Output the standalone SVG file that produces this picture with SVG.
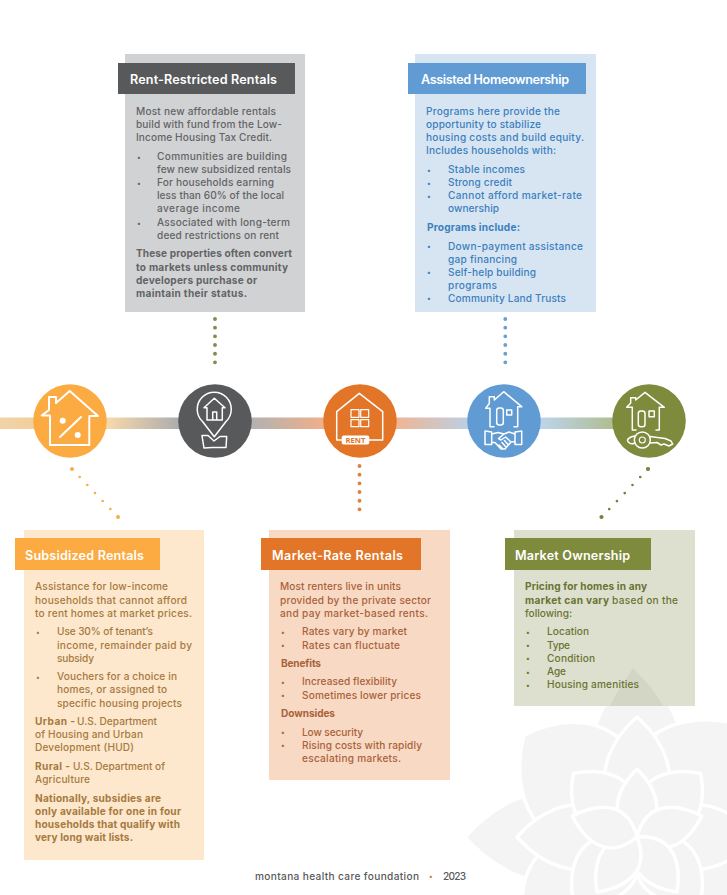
<svg xmlns="http://www.w3.org/2000/svg" xmlns:xlink="http://www.w3.org/1999/xlink" width="727" height="895" viewBox="0 0 727 895">
<style>
text{font-family:Inter,"Noto Sans","Liberation Sans",sans-serif;font-size:10.1px;font-weight:500;transform:translateY(-.4px)}
.t{font-size:12.6px;font-weight:600;fill:#fff}
.b{font-weight:700}
.k{font-size:7px}
.gy text{fill:#636466}.bl text{fill:#3b80bd}.su text{fill:#a67a3e}.mk text{fill:#a9623a}.gn text{fill:#6a7333}
text.t{fill:#fff}
.ic{fill:none;stroke:#fff;stroke-width:1.5;stroke-linecap:round;stroke-linejoin:round}
.dot{fill:none;stroke-width:3.9;stroke-linecap:round}
.dg{fill:none;stroke-width:2.7;stroke-linecap:round}
.p{fill:#f4f4f4;stroke:#fff;stroke-width:3.5;stroke-linejoin:round}
</style>
<defs>
<linearGradient id="g0"><stop offset="0" stop-color="#f0d3a8"/><stop offset="1" stop-color="#f2cf9c"/></linearGradient>
<linearGradient id="g1"><stop offset="0" stop-color="#f8d9ac"/><stop offset="1" stop-color="#adadad"/></linearGradient>
<linearGradient id="g2"><stop offset="0" stop-color="#b2b2b2"/><stop offset="1" stop-color="#efb08a"/></linearGradient>
<linearGradient id="g3"><stop offset="0" stop-color="#efb694"/><stop offset="1" stop-color="#bccfe4"/></linearGradient>
<linearGradient id="g4"><stop offset="0" stop-color="#bdd5ec"/><stop offset="1" stop-color="#b0bd92"/></linearGradient>
<path id="po" d="M0,0C-72,-60 -48,-130 0,-172C48,-130 72,-60 0,0Z"/>
<path id="pd" d="M0,0C-90,-40 -70,-115 -8,-152C75,-125 80,-40 0,0Z"/>
<path id="pm" d="M0,0C-52,-40 -34,-90 0,-120C34,-90 52,-40 0,0Z"/>
<path id="ps" d="M0,0C-48,-30 -32,-68 0,-90C32,-68 48,-30 0,0Z"/>
<path id="pi" d="M0,0C-32,-20 -20,-48 0,-68C20,-48 32,-20 0,0Z"/>
</defs>

<g id="watermark" transform="translate(637 837)">
<g class="p">
<use href="#po"/><use href="#po" transform="rotate(90)"/><use href="#po" transform="rotate(180)"/><use href="#po" transform="rotate(270)"/>
<use href="#pd" transform="rotate(45)"/><use href="#pd" transform="rotate(135)"/><use href="#pd" transform="rotate(225)"/><use href="#pd" transform="rotate(315)"/>
<use href="#pm"/><use href="#pm" transform="rotate(90)"/><use href="#pm" transform="rotate(180)"/><use href="#pm" transform="rotate(270)"/>
<use href="#ps" transform="rotate(45)"/><use href="#ps" transform="rotate(135)"/><use href="#ps" transform="rotate(225)"/><use href="#ps" transform="rotate(315)"/>
<use href="#pi"/><use href="#pi" transform="rotate(72)"/><use href="#pi" transform="rotate(144)"/><use href="#pi" transform="rotate(216)"/><use href="#pi" transform="rotate(288)"/>
</g>
</g>

<g id="connectors">
<rect x="0" y="417.5" width="34" height="11.5" fill="url(#g0)"/>
<rect x="106" y="417.5" width="73" height="11.5" fill="url(#g1)"/>
<rect x="251" y="417.5" width="73" height="11.5" fill="url(#g2)"/>
<rect x="396" y="417.5" width="73" height="11.5" fill="url(#g3)"/>
<rect x="540" y="417.5" width="73" height="11.5" fill="url(#g4)"/>
<line class="dot" x1="215" y1="319" x2="215" y2="371" stroke="#848d4e" stroke-dasharray="0 8.67"/>
<line class="dot" x1="359.5" y1="466" x2="359.5" y2="518" stroke="#df8140" stroke-dasharray="0 8.67"/>
<line class="dot" x1="505.3" y1="319" x2="505.3" y2="371" stroke="#6f9fd2" stroke-dasharray="0 8.67"/>
<line class="dg" x1="72" y1="469" x2="118" y2="517" stroke="#f5b04e" stroke-dasharray="0 11.08"/>
<line class="dg" x1="648" y1="469" x2="601.5" y2="517" stroke="#76823c" stroke-dasharray="0 11.15"/>
<circle cx="72" cy="469" r="2" fill="#f5b04e"/><circle cx="118" cy="517" r="2" fill="#f5b04e"/>
<circle cx="648" cy="469" r="2.1" fill="#76823c"/><circle cx="601.5" cy="517" r="2.1" fill="#76823c"/>
</g>

<g id="node-subsidized-icon">
<circle cx="70" cy="421" r="36.8" fill="#fbab41"/>
<path class="ic" style="stroke-width:2" d="M50,416V445H89.3V416H98L69.7,391L56,403V397H49V410L41.7,415.5H50"/>
<path class="ic" style="stroke-width:2" d="M60,437L81,417"/>
<circle cx="62.7" cy="420.7" r="3" fill="#fff"/><circle cx="77.7" cy="435" r="3" fill="#fff"/>
</g>

<g id="node-restricted-icon">
<circle cx="215" cy="421" r="36.8" fill="#58595b"/>
<path class="ic" d="M214.3,436.7L202.5,421.5A17,17,0,1,1,226,421.5Z"/>
<path class="ic" d="M207,407.7H204L214.3,398.3L225,407.7H222.3V420H207ZM212.7,420V412H216.7V420"/>
<path class="ic" d="M202,435.5H208L214,441L220,436.5H226.7L226,447.5H212L204,448L203,442Z"/>
</g>

<g id="node-market-rate-icon">
<circle cx="360" cy="421" r="36.8" fill="#e27527"/>
<path class="ic" d="M341.7,440H336.7V411.7L359.3,393.3L382.7,411.7V440H369.3"/>
<rect x="351" y="409.7" width="8" height="7.6" class="ic" style="stroke-width:1.2"/><rect x="360.7" y="409.7" width="8" height="7.6" class="ic" style="stroke-width:1.2"/>
<rect x="351" y="419.7" width="8" height="7" class="ic" style="stroke-width:1.2"/><rect x="360.7" y="419.7" width="8" height="7" class="ic" style="stroke-width:1.2"/>
<rect x="341.7" y="435.5" width="27.6" height="9" rx="2" fill="#fff"/>
<text x="355.5" y="443.4" text-anchor="middle" style="font-size:7.6px;font-weight:700;fill:#e27527;font-family:'Open Sans',sans-serif">RENT</text>
</g>

<g id="node-assisted-icon">
<circle cx="504" cy="421" r="36.8" fill="#619bd4"/>
<path class="ic" d="M490,408.3H485.7L489.3,403.5V396.7H494.3V400L503.7,391.7L521.7,406.7H517.7V426.7H514M490,408.3V426.7H494"/>
<rect x="496.7" y="408" width="6.6" height="17" rx="2.5" class="ic"/>
<rect x="506.7" y="410" width="5" height="5" class="ic"/>
<path class="ic" d="M485,431L491.7,432V444.5L485,444.5ZM515,432L521.7,431V444.5H515ZM491.7,434L498,432.5L504,434L509,432L515,434V441.5L511,442L505,449L501,449L495,442.5H491.7M504,434L498.5,438.5L501,440L505.5,437L511,442M503,449L499,445M506,447L502,442.5M508.5,445L504.5,440.5"/>
</g>

<g id="node-ownership-icon">
<circle cx="649" cy="421" r="36.8" fill="#7e8a3c"/>
<path class="ic" d="M632.3,407.3H626.7L630.7,403V397.7H635.7V400L645,392.3L664.3,407.3H659.3V430H656M632.3,407.3V430H636"/>
<rect x="638.3" y="411" width="6.7" height="15.7" rx="2.5" class="ic"/>
<rect x="649" y="411" width="5.3" height="5.7" class="ic"/>
<circle cx="642.3" cy="440" r="8" class="ic"/>
<circle cx="642.3" cy="440" r="3" class="ic" style="stroke-width:1.1"/>
<path class="ic" d="M634.5,436C629,437 626,440 628.3,442C630,444 633,444 635,443M650,436.5L665,438.5L671,441L672.7,444L669,446L664,444L661,445L657,442.5L650,443"/>
</g>

<g id="node-restricted" class="gy">
<rect x="125" y="54" width="180" height="258" fill="#d1d2d4"/>
<rect x="118" y="63" width="177" height="31" fill="#58595b"/>
<text class="t" x="130" y="84" textLength="147">Rent-Restricted Rentals</text>
<text x="136" y="115.5" textLength="140">Most new affordable rentals</text>
<text x="136" y="128.5" textLength="146">build with fund from the Low-</text>
<text x="136" y="141.5" textLength="136">Income Housing Tax Credit.</text>
<text class="k" x="137" y="160">•</text><text x="157" y="160.5" textLength="130">Communities are building</text>
<text x="157" y="173.5" textLength="134">few new subsidized rentals</text>
<text class="k" x="137" y="186">•</text><text x="157" y="186.5" textLength="117">For households earning</text>
<text x="157" y="199.5" textLength="127">less than 60% of the local</text>
<text x="157" y="212.5" textLength="83">average income</text>
<text class="k" x="137" y="226">•</text><text x="157" y="226.5" textLength="133">Associated with long-term</text>
<text x="157" y="239.5" textLength="122">deed restrictions on rent</text>
<text class="b" x="136" y="257.5" textLength="156">These properties often convert</text>
<text class="b" x="136" y="271" textLength="152">to markets unless community</text>
<text class="b" x="136" y="284" textLength="121">developers purchase or</text>
<text class="b" x="136" y="297" textLength="111">maintain their status.</text>
</g>

<g id="node-assisted" class="bl">
<rect x="415" y="54" width="181" height="258" fill="#d7e5f3"/>
<rect x="408" y="63" width="178" height="31" fill="#619bd4"/>
<text class="t" x="421" y="84" textLength="148">Assisted Homeownership</text>
<text x="426" y="115.5" textLength="134">Programs here provide the</text>
<text x="426" y="128.5" textLength="115">opportunity to stabilize</text>
<text x="426" y="141.5" textLength="158">housing costs and build equity.</text>
<text x="426" y="154.5" textLength="130">Includes households with:</text>
<text class="k" x="427" y="173">•</text><text x="448" y="173.5" textLength="77">Stable incomes</text>
<text class="k" x="427" y="186">•</text><text x="448" y="186.5" textLength="64">Strong credit</text>
<text class="k" x="427" y="199">•</text><text x="448" y="199.5" textLength="134">Cannot afford market-rate</text>
<text x="448" y="212.5" textLength="51">ownership</text>
<text class="b" x="427" y="231.5" textLength="93">Programs include:</text>
<text class="k" x="427" y="249.5">•</text><text x="448" y="250" textLength="135">Down-payment assistance</text>
<text x="448" y="263" textLength="69">gap financing</text>
<text class="k" x="427" y="275.5">•</text><text x="448" y="276" textLength="88">Self-help building</text>
<text x="448" y="289" textLength="49">programs</text>
<text class="k" x="427" y="301.5">•</text><text x="448" y="302" textLength="118">Community Land Trusts</text>
</g>

<g id="node-subsidized" class="su">
<rect x="24" y="530" width="180" height="330" fill="#fde7cd"/>
<rect x="15" y="538" width="145" height="32" fill="#fbab41"/>
<text class="t" x="25" y="560" textLength="119">Subsidized Rentals</text>
<text x="35" y="590.5" textLength="133">Assistance for low-income</text>
<text x="35" y="604" textLength="152">households that cannot afford</text>
<text x="35" y="617" textLength="157">to rent homes at market prices.</text>
<text class="k" x="36" y="635">•</text><text x="57" y="635.5" textLength="96">Use 30% of tenant’s</text>
<text x="57" y="649" textLength="135">income, remainder paid by</text>
<text x="57" y="662" textLength="37">subsidy</text>
<text class="k" x="36" y="680">•</text><text x="57" y="680" textLength="120">Vouchers for a choice in</text>
<text x="57" y="693" textLength="110">homes, or assigned to</text>
<text x="57" y="707" textLength="125">specific housing projects</text>
<text class="b" x="35" y="725" textLength="40">Urban -</text><text x="77" y="725" textLength="80">U.S. Department</text>
<text x="35" y="738" textLength="108">of Housing and Urban</text>
<text x="35" y="751" textLength="99">Development (HUD)</text>
<text class="b" x="35" y="770" textLength="35">Rural -</text><text x="73" y="770" textLength="92">U.S. Department of</text>
<text x="35" y="783" textLength="55">Agriculture</text>
<text class="b" x="35" y="802" textLength="126">Nationally, subsidies are</text>
<text class="b" x="35" y="815" textLength="146">only available for one in four</text>
<text class="b" x="35" y="828" textLength="145">households that qualify with</text>
<text class="b" x="35" y="841" textLength="98">very long wait lists.</text>
</g>

<g id="node-market-rate" class="mk">
<rect x="269" y="530" width="181" height="250" fill="#f8d9c4"/>
<rect x="261" y="538" width="160" height="32" fill="#e27527"/>
<text class="t" x="272" y="560" textLength="131">Market-Rate Rentals</text>
<text x="280" y="590.5" textLength="121">Most renters live in units</text>
<text x="280" y="604" textLength="151">provided by the private sector</text>
<text x="280" y="617" textLength="148">and pay market-based rents.</text>
<text class="k" x="281" y="635">•</text><text x="302" y="635.5" textLength="105">Rates vary by market</text>
<text class="k" x="281" y="648.5">•</text><text x="302" y="649" textLength="98">Rates can fluctuate</text>
<text class="b" x="281" y="667" textLength="40">Benefits</text>
<text class="k" x="281" y="685">•</text><text x="302" y="685.5" textLength="95">Increased flexibility</text>
<text class="k" x="281" y="698.5">•</text><text x="302" y="699" textLength="119">Sometimes lower prices</text>
<text class="b" x="281" y="717" textLength="54">Downsides</text>
<text class="k" x="281" y="735.5">•</text><text x="302" y="736" textLength="61">Low security</text>
<text class="k" x="281" y="748.5">•</text><text x="302" y="749" textLength="120">Rising costs with rapidly</text>
<text x="302" y="762" textLength="99">escalating markets.</text>
</g>

<g id="node-ownership" class="gn">
<rect x="514" y="530" width="181" height="176" fill="#dde0ce"/>
<path d="M633,668C625,680 615,695 610,706H663C655,690 642,678 633,668Z" fill="#d3d6c4"/>
<rect x="505" y="538" width="146" height="32" fill="#7e8a3c"/>
<text class="t" x="515" y="560" textLength="115">Market Ownership</text>
<text class="b" x="525" y="590.5" textLength="122">Pricing for homes in any</text>
<text class="b" x="525" y="604" textLength="84">market can vary</text><text x="612" y="604" textLength="66">based on the</text>
<text x="525" y="617" textLength="47">following:</text>
<text class="k" x="526" y="635">•</text><text x="547" y="635.5" textLength="42">Location</text>
<text class="k" x="526" y="648.5">•</text><text x="547" y="649" textLength="23">Type</text>
<text class="k" x="526" y="661.5">•</text><text x="547" y="662" textLength="48">Condition</text>
<text class="k" x="526" y="675">•</text><text x="547" y="675.5" textLength="19">Age</text>
<text class="k" x="526" y="688">•</text><text x="547" y="688.5" textLength="92">Housing amenities</text>
</g>

<g id="footer">
<text x="255" y="880" textLength="164" fill="#58595b">montana health care foundation</text>
<text class="k" x="429" y="879.5" fill="#e27527">•</text>
<text x="443" y="880" textLength="23" fill="#58595b">2023</text>
</g>
</svg>
